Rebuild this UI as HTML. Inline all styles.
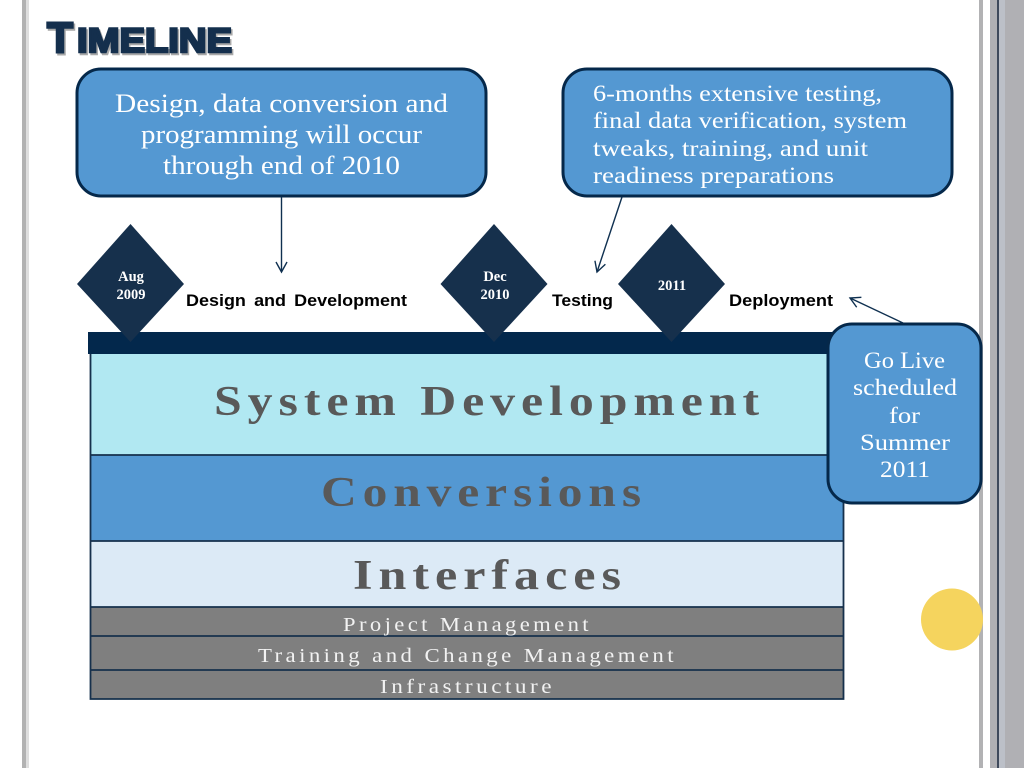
<!DOCTYPE html>
<html>
<head>
<meta charset="utf-8">
<style>
html,body{margin:0;padding:0;background:#fff;width:1024px;height:768px;overflow:hidden}
svg{display:block}
.s{font-family:"Liberation Serif",serif}
.a{font-family:"Liberation Sans",sans-serif}
</style>
</head>
<body>
<svg width="1024" height="768" viewBox="0 0 1024 768" xmlns="http://www.w3.org/2000/svg">
<defs>
<marker id="ah" markerWidth="14" markerHeight="14" refX="11" refY="6.500" orient="auto" markerUnits="userSpaceOnUse">
<path d="M1 1 L11 6.500 L1 12" fill="none" stroke="#0f3050" stroke-width="1.4"/>
</marker>
</defs>
<rect width="1024" height="768" fill="#fff"/>
<!-- frame bars -->
<rect x="22" y="0" width="4" height="768" fill="#b2b2b2"/>
<rect x="26" y="0" width="3" height="768" fill="#dedede"/>
<rect x="979" y="0" width="4" height="768" fill="#b2b2b4"/>
<rect x="990" y="0" width="34" height="768" fill="#b0b0b4"/>
<rect x="997" y="0" width="2" height="768" fill="#3f4a5c"/>
<rect x="999" y="0" width="6" height="768" fill="#bcc0c8"/>
<!-- title -->
<g class="a" font-weight="bold" fill="#a8a8a8" stroke="#a8a8a8" stroke-width="2.400" transform="translate(1.500,2)">
<text x="47" y="52" font-size="43" textLength="26" lengthAdjust="spacingAndGlyphs">T</text>
<text x="77" y="52" font-size="34" textLength="155" lengthAdjust="spacingAndGlyphs">IMELINE</text>
</g>
<g class="a" font-weight="bold" fill="#142f4d" stroke="#142f4d" stroke-width="2.400">
<text x="47" y="52" font-size="43" textLength="26" lengthAdjust="spacingAndGlyphs">T</text>
<text x="77" y="52" font-size="34" textLength="155" lengthAdjust="spacingAndGlyphs">IMELINE</text>
</g>
<!-- top callouts -->
<rect x="77" y="69" width="409" height="127" rx="24" fill="#5498d2" stroke="#05284a" stroke-width="3"/>
<g class="s" font-size="26.500" fill="#fff">
<text x="115" y="112" textLength="333" lengthAdjust="spacingAndGlyphs">Design, data conversion and</text>
<text x="141" y="143" textLength="281" lengthAdjust="spacingAndGlyphs">programming will occur</text>
<text x="163" y="174" textLength="237" lengthAdjust="spacingAndGlyphs">through end of 2010</text>
</g>
<rect x="563" y="69" width="389" height="127" rx="24" fill="#5498d2" stroke="#05284a" stroke-width="3"/>
<g class="s" font-size="23.500" fill="#fff">
<text x="593" y="101" textLength="289" lengthAdjust="spacingAndGlyphs">6-months extensive testing,</text>
<text x="593" y="128" textLength="314" lengthAdjust="spacingAndGlyphs">final data verification, system</text>
<text x="593" y="156" textLength="275" lengthAdjust="spacingAndGlyphs">tweaks, training, and unit</text>
<text x="593" y="183" textLength="241" lengthAdjust="spacingAndGlyphs">readiness preparations</text>
</g>
<!-- connectors -->
<line x1="281.500" y1="197" x2="281.500" y2="272" stroke="#0f3050" stroke-width="1.400" marker-end="url(#ah)"/>
<line x1="622" y1="197" x2="597" y2="272" stroke="#0f3050" stroke-width="1.400" marker-end="url(#ah)"/>
<line x1="903" y1="323" x2="850" y2="298" stroke="#0f3050" stroke-width="1.400" marker-end="url(#ah)"/>
<!-- timeline bar -->
<rect x="88" y="332" width="756" height="22" fill="#03284c"/>
<!-- stacked blocks -->
<rect x="91" y="354" width="752" height="101" fill="#b1e8f2"/>
<rect x="91" y="455" width="752" height="86" fill="#5498d2"/>
<rect x="91" y="541" width="752" height="66" fill="#dceaf6"/>
<rect x="91" y="607" width="752" height="29" fill="#7f7f7f"/>
<rect x="91" y="636" width="752" height="34" fill="#7f7f7f"/>
<rect x="91" y="670" width="752" height="29" fill="#7f7f7f"/>
<g stroke="#16304c" stroke-width="1.800" fill="none">
<path d="M90.500 354 V699 H843.500 V354"/>
<line x1="91" y1="455" x2="843" y2="455"/>
<line x1="91" y1="541" x2="843" y2="541"/>
<line x1="91" y1="607" x2="843" y2="607"/>
<line x1="91" y1="636" x2="843" y2="636"/>
<line x1="91" y1="670" x2="843" y2="670"/>
</g>
<g class="s" font-weight="bold" fill="#595959" font-size="42" letter-spacing="5">
<text x="214" y="415" textLength="551" lengthAdjust="spacingAndGlyphs">System Development</text>
<text x="321" y="506" textLength="326" lengthAdjust="spacingAndGlyphs">Conversions</text>
<text x="353" y="589" textLength="274" lengthAdjust="spacingAndGlyphs">Interfaces</text>
</g>
<g class="s" font-size="20" fill="#f2f2f2" letter-spacing="3">
<text x="343" y="631" textLength="249" lengthAdjust="spacingAndGlyphs">Project Management</text>
<text x="258" y="662" textLength="419" lengthAdjust="spacingAndGlyphs">Training and Change Management</text>
<text x="380" y="693" textLength="175" lengthAdjust="spacingAndGlyphs">Infrastructure</text>
</g>
<!-- diamonds -->
<g fill="#16304c">
<polygon points="130.500,224 184,284 130.500,342 77,284"/>
<polygon points="494,224 547.500,284 494,342 440.500,284"/>
<polygon points="671.500,224 725,284 671.500,342 618,284"/>
</g>
<g class="s" font-size="14.500" font-weight="bold" fill="#fff" text-anchor="middle">
<text x="131" y="281">Aug</text>
<text x="131" y="299">2009</text>
<text x="495" y="281">Dec</text>
<text x="495" y="299">2010</text>
<text x="672" y="290">2011</text>
</g>
<!-- timeline labels -->
<g class="a" font-size="17" font-weight="bold" fill="#000">
<text x="186" y="306" word-spacing="3" textLength="221" lengthAdjust="spacingAndGlyphs">Design and Development</text>
<text x="552" y="306" textLength="61" lengthAdjust="spacingAndGlyphs">Testing</text>
<text x="729" y="306" textLength="104" lengthAdjust="spacingAndGlyphs">Deployment</text>
</g>
<!-- go live -->
<rect x="828" y="324" width="153" height="179" rx="24" fill="#5498d2" stroke="#05284a" stroke-width="3"/>
<g class="s" font-size="23.500" fill="#fff">
<text x="864" y="368" textLength="81" lengthAdjust="spacingAndGlyphs">Go Live</text>
<text x="853" y="395" textLength="104" lengthAdjust="spacingAndGlyphs">scheduled</text>
<text x="889" y="423" textLength="31" lengthAdjust="spacingAndGlyphs">for</text>
<text x="860" y="450" textLength="90" lengthAdjust="spacingAndGlyphs">Summer</text>
<text x="880" y="477" textLength="50" lengthAdjust="spacingAndGlyphs">2011</text>
</g>
<!-- circle -->
<circle cx="952" cy="619.500" r="31" fill="#f5d45e"/>
</svg>
</body>
</html>
